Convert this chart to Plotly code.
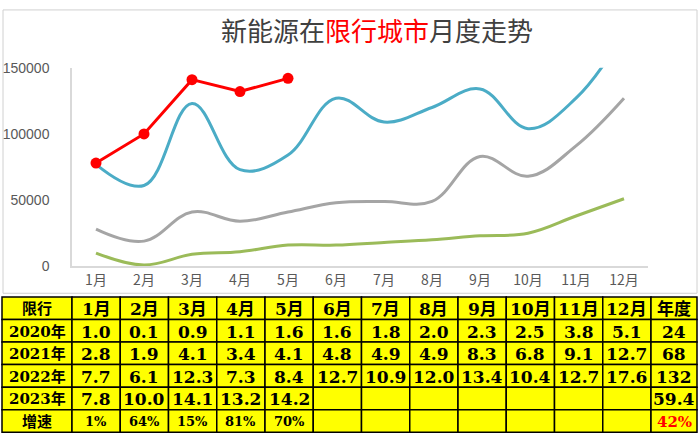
import plotly.graph_objects as go

# --- data (table values are in units of 10,000) ---
months = ["1月", "2月", "3月", "4月", "5月", "6月", "7月", "8月", "9月", "10月", "11月", "12月"]
y2020 = ["1.0", "0.1", "0.9", "1.1", "1.6", "1.6", "1.8", "2.0", "2.3", "2.5", "3.8", "5.1"]
y2021 = ["2.8", "1.9", "4.1", "3.4", "4.1", "4.8", "4.9", "4.9", "8.3", "6.8", "9.1", "12.7"]
y2022 = ["7.7", "6.1", "12.3", "7.3", "8.4", "12.7", "10.9", "12.0", "13.4", "10.4", "12.7", "17.6"]
y2023 = ["7.8", "10.0", "14.1", "13.2", "14.2"]
growth = ["1%", "64%", "15%", "81%", "70%"]
row_labels = ["2020年", "2021年", "2022年", "2023年", "增速"]
year_totals = ["24", "68", "132", "59.4", "42%"]
unit = 10000

series = [
    ("2020年", y2020, "#9bbb59"),
    ("2021年", y2021, "#a5a5a5"),
    ("2022年", y2022, "#4bacc6"),
]

fig = go.Figure()

for name, vals, color in series:
    fig.add_trace(go.Scatter(
        x=months[:len(vals)], y=[float(v) * unit for v in vals],
        mode="lines", name=name,
        line=dict(color=color, width=3, shape="spline", smoothing=1.1),
    ))

fig.add_trace(go.Scatter(
    x=months[:len(y2023)], y=[float(v) * unit for v in y2023],
    mode="lines+markers", name="2023年",
    line=dict(color="#ff0000", width=3),
    marker=dict(color="#ff0000", size=11),
    cliponaxis=False,
))

# --- table below the chart (Excel-like grid, drawn with shapes) ---
W, H = 700, 441
n = len(months)
header = ["限行"] + months + ["年度"]
body = [[row_labels[r]] for r in range(5)]
for i in range(n):
    body[0].append(y2020[i])
    body[1].append(y2021[i])
    body[2].append(y2022[i])
    body[3].append(y2023[i] if i < len(y2023) else "")
    body[4].append(growth[i] if i < len(growth) else "")
for r in range(5):
    body[r].append(year_totals[r])
rows = [header] + body

col_w = [70] + [48.25] * n + [46]
row_h = 23.35
left, top = 2, 300
serif = "DejaVu Serif, Liberation Serif, Noto Sans CJK SC"

xs = [left]
for w in col_w:
    xs.append(xs[-1] + w)

for r, row in enumerate(rows):
    y1 = top + r * row_h
    y0 = y1 + row_h
    for c, txt in enumerate(row):
        fig.add_shape(type="rect", xref="paper", yref="paper",
                      x0=xs[c] / W, x1=xs[c + 1] / W,
                      y0=1 - y0 / H, y1=1 - y1 / H,
                      fillcolor="#ffff00", line=dict(color="black", width=1.5))
        if not txt:
            continue
        size, color = 17, "black"
        if c == 0:
            size = 15
        elif r == 5:
            size = 13
            if c == len(row) - 1:
                size, color = 15, "#ff0000"
        fig.add_annotation(
            x=(xs[c] + xs[c + 1]) / 2 / W, y=1 - (y1 + row_h / 2 + 1) / H,
            xref="paper", yref="paper", xanchor="center", yanchor="middle",
            text="<b>%s</b>" % txt, showarrow=False,
            font=dict(family=serif, size=size, color=color),
        )

# title with the red part
fig.add_annotation(
    x=377 / W, y=1 - 22 / H, xref="paper", yref="paper", yanchor="middle",
    text="新能源在<span style='color:#ff0000'>限行城市</span>月度走势",
    showarrow=False,
    font=dict(family="Noto Sans CJK SC", size=26, color="#404040"),
)

# chart frame
fig.add_shape(type="rect", xref="paper", yref="paper",
              x0=3 / W, x1=697 / W, y0=1 - 296 / H, y1=1 - 2 / H,
              line=dict(color="#d0d0d0", width=1), layer="below")

fig.update_layout(
    width=W, height=H,
    margin=dict(l=0, r=0, t=0, b=0),
    paper_bgcolor="white", plot_bgcolor="white",
    showlegend=False,
    xaxis=dict(
        domain=[72 / W, 648 / W],
        type="category", range=[-0.5, 11.5],
        showline=True, linecolor="#d9d9d9", linewidth=1.5,
        showgrid=False, ticks="", ticklen=0,
        tickfont=dict(family="Noto Sans CJK SC", size=14, color="#595959"),
    ),
    yaxis=dict(
        domain=[1 - 268 / H, 1 - 62 / H],
        range=[0, 150000], tickvals=[0, 50000, 100000, 150000],
        ticktext=["0", "50000", "100000", "150000"],
        showline=True, linecolor="#d9d9d9", linewidth=1.5,
        showgrid=False, zeroline=False, ticks="",
        tickfont=dict(family="Liberation Sans", size=14, color="#595959"),
        ticklabelstandoff=18,
    ),
)

# the page's default body margin would push the 700x441 figure out of the window
fig.write_html("out.html",
               config=dict(displayModeBar=False),
               post_script="document.body.style.margin='0px';"
                           "document.body.style.overflow='hidden';")
